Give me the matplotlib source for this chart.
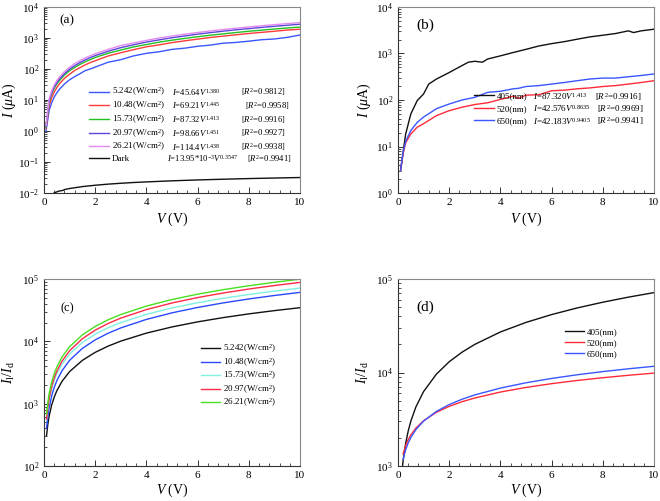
import matplotlib
matplotlib.use("Agg")
import matplotlib.pyplot as plt
from matplotlib.ticker import LogLocator, MultipleLocator, NullFormatter, LogFormatterMathtext

plt.rcParams['font.family'] = ['Liberation Serif', 'DejaVu Serif']
plt.rcParams['mathtext.fontset'] = 'custom'
plt.rcParams['mathtext.rm'] = 'Liberation Serif'
plt.rcParams['mathtext.it'] = 'Liberation Serif:italic'
plt.rcParams['mathtext.bf'] = 'Liberation Serif:bold'

# ---------------- Panel (a): I-V under 405 nm, various intensities ----------------
va = [0.08, 0.2, 0.3, 0.4, 0.5, 0.6, 0.8, 1.0, 1.2, 1.4, 1.6, 1.8, 2.0, 2.5, 3.0, 3.5,
      4.0, 4.5, 5.0, 5.5, 6.0, 6.5, 7.0, 7.5, 8.0, 8.5, 9.0, 9.5, 10.0]
ia_5242 = [1.0, 4.6, 8.2, 12.5, 17, 22, 33, 45, 57, 70, 88, 100, 115, 165, 200, 265,
           320, 360, 430, 470, 540, 590, 680, 720, 790, 880, 930, 1050, 1250]
ia_1048 = [1.2, 6.5, 12, 18, 25, 33, 50, 68, 90, 110, 135, 160, 185, 262, 335, 420,
           520, 600, 710, 810, 920, 1040, 1150, 1270, 1400, 1520, 1650, 1800, 1920]
ia_1573 = [1.3, 8.8, 16, 24, 33, 42, 64, 88, 112, 140, 170, 200, 235, 320, 410, 515,
           615, 735, 850, 970, 1100, 1230, 1360, 1500, 1650, 1790, 1950, 2100, 2250]
ia_2097 = [1.4, 9.5, 17, 26, 36, 47, 71, 99, 128, 160, 195, 232, 270, 372, 488, 605,
           740, 872, 1020, 1165, 1330, 1490, 1660, 1840, 2010, 2200, 2390, 2580, 2780]
ia_2621 = [1.5, 11, 20, 30, 42, 55, 83, 114, 149, 186, 225, 266, 310, 427, 570, 693,
           840, 995, 1158, 1327, 1504, 1687, 1877, 2073, 2275, 2482, 2695, 2913, 3137]
v_dark = [0.4, 0.5, 0.6, 0.75, 0.8, 1.0, 1.5, 2.0, 2.5, 3.0, 3.5, 4.0, 5.0, 6.0, 7.0, 8.0, 9.0, 10.0]
i_dark = [0.0101, 0.0109, 0.0116, 0.0122, 0.0129, 0.01395, 0.0161, 0.0178, 0.0193, 0.0206,
          0.0218, 0.0228, 0.0247, 0.0264, 0.0278, 0.0292, 0.0304, 0.0316]
labels_a = ['5.242(W/cm$^2$)', '10.48(W/cm$^2$)', '15.73(W/cm$^2$)', '20.97(W/cm$^2$)',
            '26.21(W/cm$^2$)', 'Dark']
fits_a = ['$I$=45.64$V^{1.380}$', '$I$=69.21$V^{1.445}$', '$I$=87.32$V^{1.413}$',
          '$I$=98.66$V^{1.451}$', '$I$=114.4$V^{1.438}$', '$I$=13.95*10$^{-3}$$V^{0.3547}$']
r2_a = ['[$R^2$=0.9812]', '[$R^2$=0.9958]', '[$R^2$=0.9916]', '[$R^2$=0.9927]',
        '[$R^2$=0.9938]', '[$R^2$=0.9941]']
colors_a = ['#3a56ff', '#ff3a3a', '#22c022', '#5a46d8', '#e28af0', '#111111']

# ---------------- Panel (b): I-V at different wavelengths ----------------
vb = [0.1, 0.2, 0.3, 0.5, 0.75, 1.0, 1.2, 1.5, 2.0, 2.5, 2.75, 3.0, 3.3, 3.5, 4.0, 4.5,
      5.0, 5.5, 6.0, 6.5, 7.0, 7.5, 8.0, 8.5, 9.0, 9.2, 9.5, 10.0]
ib_405 = [3.1, 7.6, 18.6, 50, 97, 135, 220, 282, 390, 550, 650, 680, 650, 760, 890, 1050,
          1230, 1450, 1630, 1800, 2030, 2280, 2470, 2690, 3070, 2820, 3070, 3330]
vb2 = [0.1, 0.2, 0.3, 0.5, 0.75, 1.0, 1.5, 2.0, 2.5, 3.0, 3.5, 4.0, 4.5, 4.7, 5.0, 5.5,
       6.0, 6.5, 7.0, 7.5, 8.0, 8.5, 9.0, 9.5, 10.0]
ib_520 = [3.0, 7, 12, 18.6, 26, 31, 46, 59, 70, 80, 87, 103, 121, 108, 127, 130,
          158, 163, 174, 182, 195, 204, 220, 238, 260]
ib_650 = [3.0, 7.5, 13, 22, 33, 43, 65, 82, 100, 114, 146, 154, 174, 178, 195, 204,
          220, 238, 260, 283, 296, 296, 316, 337, 363]
labels_b = ['405(nm)', '520(nm)', '650(nm)']
fits_b = ['$I$=87.320$V^{1.413}$', '$I$=42.576$V^{0.8635}$', '$I$=42.183$V^{0.9405}$']
r2_b = ['[$R^2$=0.9916]', '[$R^2$=0.9969]', '[$R^2$=0.9941]']
colors_b = ['#111111', '#ff2a3a', '#3a56ff']

# ---------------- Panel (c): Il/Id vs V, intensities ----------------
vc = [0.1, 0.15, 0.2, 0.3, 0.4, 0.5, 0.7, 1.0, 1.5, 2, 2.5, 3, 4, 5, 6, 7, 8, 9, 10]
rc_5242 = [309, 468, 628, 952, 1278, 1607, 2268, 3272, 4955, 6654, 8365, 10083, 13544,
           17020, 20520, 24030, 27560, 31100, 34650]
rc_1048 = [403, 627, 858, 1334, 1826, 2329, 3361, 4961, 7713, 10555, 13459, 16420, 22470,
           28650, 34950, 41340, 47830, 54380, 61000]
rc_1573 = [548, 841, 1140, 1751, 2374, 3007, 4292, 6260, 9606, 13030, 16490, 19990, 27130,
           34340, 41640, 49020, 56470, 63970, 71530]
rc_2097 = [567, 884, 1212, 1891, 2591, 3310, 4781, 7073, 11030, 15120, 19300, 23580, 32300,
           41240, 50370, 59640, 69050, 78580, 88200]
rc_2621 = [677, 1050, 1434, 2224, 3039, 3870, 5572, 8201, 12720, 17360, 22130, 26950, 36780,
           46840, 57070, 67430, 77930, 88540, 99250]
labels_c = ['5.242(W/cm$^2$)', '10.48(W/cm$^2$)', '15.73(W/cm$^2$)', '20.97(W/cm$^2$)',
            '26.21(W/cm$^2$)']
colors_c = ['#111111', '#2a48ff', '#7ff0e0', '#ff2a48', '#48e020']

# ---------------- Panel (d): Il/Id vs V, wavelengths ----------------
vd = [0.17, 0.2, 0.3, 0.4, 0.5, 0.7, 1.0, 1.5, 2, 2.5, 3, 4, 5, 6, 7, 8, 9, 10]
rd_405 = [959, 1140, 1751, 2374, 3007, 4292, 6260, 9606, 13030, 16490, 19990, 27130,
          34340, 41640, 49020, 56470, 63970, 71530]
vd2 = [0.2, 0.3, 0.4, 0.5, 0.7, 1.0, 1.5, 2, 2.5, 3, 4, 5, 6, 7, 8, 9, 10]
rd_520 = [1345, 1654, 1914, 2144, 2544, 3052, 3752, 4344, 4866, 5339, 6180, 6923, 7596,
          8216, 8793, 9337, 9851]
rd_650 = [1178, 1494, 1768, 2015, 2453, 3024, 3835, 4539, 5174, 5758, 6813, 7764, 8640,
          9457, 10226, 10958, 11656]
labels_d = ['405(nm)', '520(nm)', '650(nm)']
colors_d = ['#111111', '#ff2a3a', '#3a56ff']

W, H = 660, 501
fig = plt.figure(figsize=(W / 100, H / 100), dpi=100)


def mkax(l, t, r, b):
    return fig.add_axes([l / W, 1 - b / H, (r - l) / W, (b - t) / H])


def style(ax, ylo, yhi):
    ax.set_yscale('log')
    ax.set_xlim(0, 10)
    ax.set_ylim(ylo, yhi)
    ax.xaxis.set_major_locator(MultipleLocator(2))
    ax.xaxis.set_minor_locator(MultipleLocator(0.4))
    ax.yaxis.set_major_locator(LogLocator(base=10, numticks=20))
    ax.yaxis.set_minor_locator(LogLocator(base=10, subs=range(2, 10), numticks=20))
    ax.yaxis.set_minor_formatter(NullFormatter())
    ax.yaxis.set_major_formatter(LogFormatterMathtext())
    ax.tick_params(which='both', direction='in', top=False, right=False, labelsize=8,
                   color='#333333')
    ax.tick_params(which='major', length=4, width=0.7)
    ax.tick_params(which='minor', length=2, width=0.6)
    for s in ax.spines.values():
        s.set_color('#888888')
        s.set_linewidth(0.8)
    ax.spines['left'].set_color('#333333')
    ax.spines['bottom'].set_color('#333333')


def extra_cols(ax, leg, cols, fs):
    """cols: list of (list_of_pixel_x_per_row, list_of_strings)."""
    fig.canvas.draw()
    inv = ax.transAxes.inverted()
    for i, txt in enumerate(leg.get_texts()):
        bb = txt.get_window_extent()
        yc = inv.transform(((bb.x0 + bb.x1) / 2, (bb.y0 + bb.y1) / 2))[1]
        for xs, strs in cols:
            xa = inv.transform((xs[i], 0))[0]
            ax.text(xa, yc, strs[i], transform=ax.transAxes, fontsize=fs,
                    va='center', ha='left')


# (a)
axa = mkax(44, 7, 300, 193)
style(axa, 1e-2, 1e4)
for y, c, lab in zip([ia_5242, ia_1048, ia_1573, ia_2097, ia_2621], colors_a, labels_a):
    axa.plot(va, y, color=c, lw=1.0, label=lab)
axa.plot(v_dark, i_dark, color=colors_a[5], lw=1.0, label=labels_a[5])
axa.set_xlabel('$V$ (V)', fontsize=10, labelpad=3)
axa.set_ylabel('$I$ ($\\mu$A)', fontsize=10, labelpad=0)
axa.text(0.06, 0.91, '(a)', transform=axa.transAxes, fontsize=9.5)
lega = axa.legend(loc='upper left', bbox_to_anchor=(0.152, 0.61), frameon=False, fontsize=6.5,
                  handlelength=2.2, labelspacing=0.12, handletextpad=0.3, borderpad=0.2)

# (b)
axb = mkax(398, 7, 654, 193)
style(axb, 1e0, 1e4)
axb.plot(vb, ib_405, color=colors_b[0], lw=1.0, label=labels_b[0])
axb.plot(vb2, ib_520, color=colors_b[1], lw=1.0, label=labels_b[1])
axb.plot(vb2, ib_650, color=colors_b[2], lw=1.0, label=labels_b[2])
axb.set_xlabel('$V$ (V)', fontsize=10, labelpad=3)
axb.set_ylabel('$I$ ($\\mu$A)', fontsize=10, labelpad=2)
axb.text(0.07, 0.88, '(b)', transform=axb.transAxes, fontsize=11)
legb = axb.legend(loc='upper left', bbox_to_anchor=(0.272, 0.576), frameon=False, fontsize=6.5,
                  handlelength=2.2, labelspacing=0.45, handletextpad=0.3, borderpad=0.2)

# (c)
axc = mkax(44, 279, 300, 466)
style(axc, 1e2, 1e5)
for y, c, lab in zip([rc_5242, rc_1048, rc_1573, rc_2097, rc_2621], colors_c, labels_c):
    axc.plot(vc, y, color=c, lw=1.0, label=lab)
axc.set_xlabel('$V$ (V)', fontsize=10, labelpad=1)
axc.set_ylabel('$I_{\\mathrm{l}}/I_{\\mathrm{d}}$', fontsize=10, labelpad=4)
axc.text(0.065, 0.83, '(c)', transform=axc.transAxes, fontsize=9)
legc = axc.legend(loc='upper left', bbox_to_anchor=(0.588, 0.694), frameon=False, fontsize=6.5,
                  handlelength=2.1, labelspacing=0.1, handletextpad=0.3, borderpad=0.2)

# (d)
axd = mkax(398, 279, 654, 466)
style(axd, 1e3, 1e5)
axd.plot(vd, rd_405, color=colors_d[0], lw=1.0, label=labels_d[0])
axd.plot(vd2, rd_520, color=colors_d[1], lw=1.0, label=labels_d[1])
axd.plot(vd2, rd_650, color=colors_d[2], lw=1.0, label=labels_d[2])
axd.set_xlabel('$V$ (V)', fontsize=10, labelpad=1)
axd.set_ylabel('$I_{\\mathrm{l}}/I_{\\mathrm{d}}$', fontsize=10, labelpad=4)
axd.text(0.07, 0.83, '(d)', transform=axd.transAxes, fontsize=11)
legd = axd.legend(loc='upper left', bbox_to_anchor=(0.628, 0.774), frameon=False, fontsize=6.5,
                  handlelength=2.1, labelspacing=0.3, handletextpad=0.3, borderpad=0.2)

# extra legend columns (pixel x positions per row)
extra_cols(axa, lega, [([172, 172, 172, 172, 172, 167], fits_a),
                       ([241, 245, 241, 241, 241, 247], r2_a)], 6.2)
extra_cols(axb, legb, [([533, 533, 533], fits_b), ([595, 597, 597], r2_b)], 6.5)

fig.savefig('out.png', dpi=100)
